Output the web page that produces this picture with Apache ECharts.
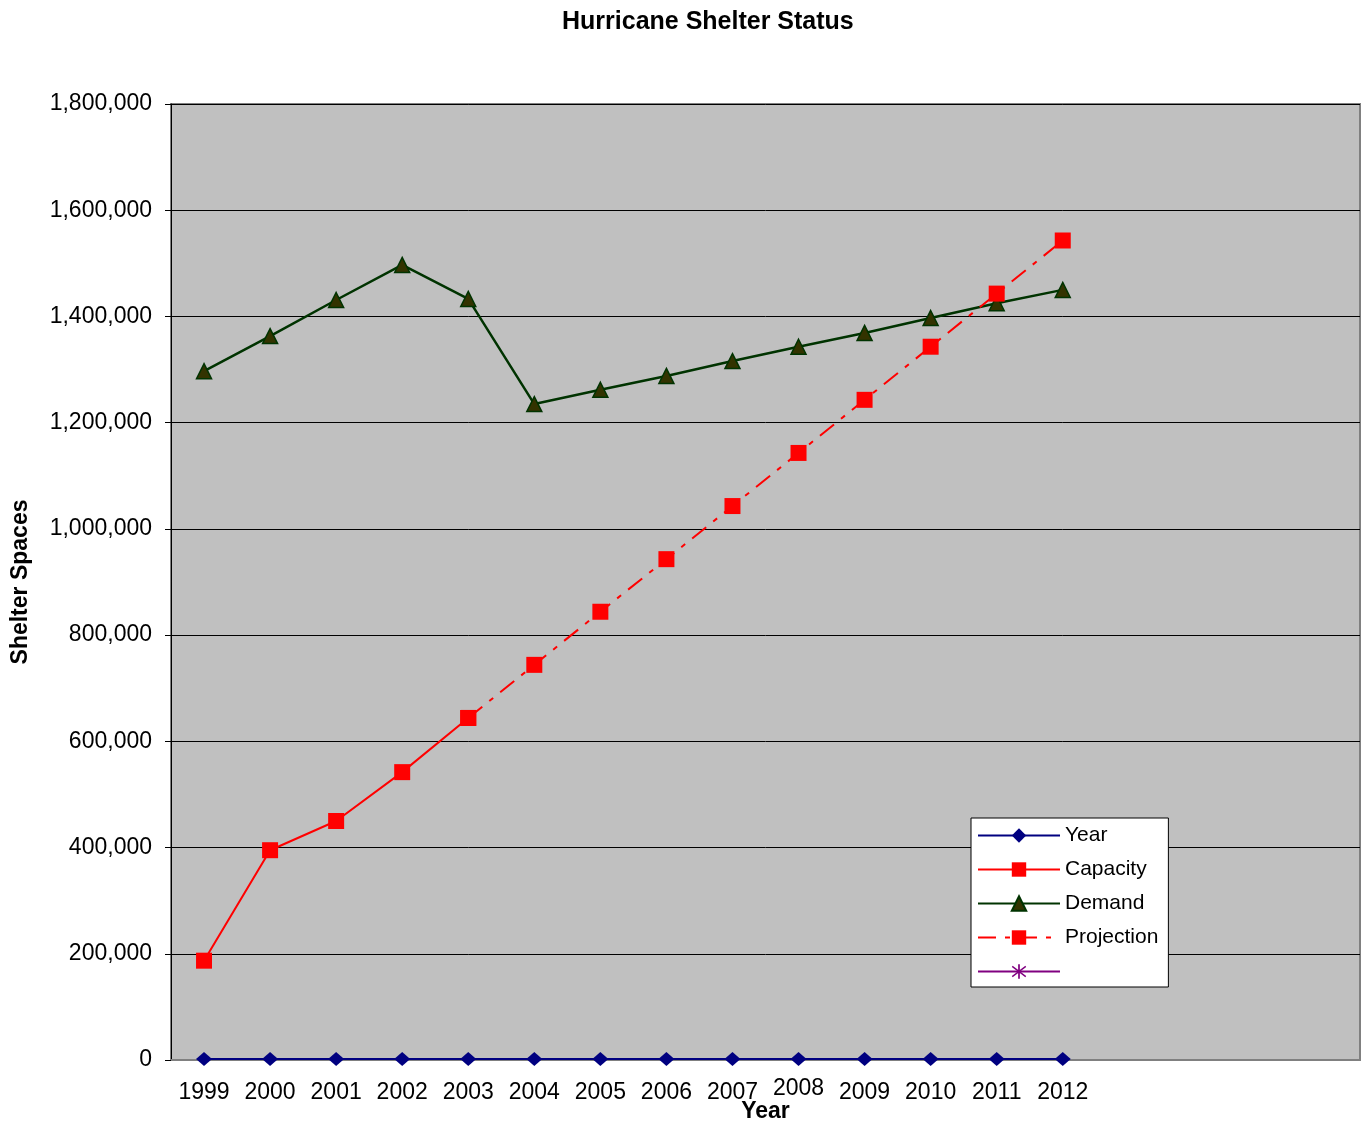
<!DOCTYPE html>
<html>
<head>
<meta charset="utf-8">
<title>Hurricane Shelter Status</title>
<script src="https://cdn.jsdelivr.net/npm/echarts@6/dist/echarts.min.js"></script>
<style>
  html, body { margin: 0; padding: 0; background: #ffffff; }
  #chart { width: 1364px; height: 1125px; }
</style>
</head>
<body>
<div id="chart"></div>
<script>
// Year categories; the axis runs on past 2012 with unlabelled slots
const years = ['1999', '2000', '2001', '2002', '2003', '2004', '2005', '2006', '2007', '2008', '2009', '2010', '2011', '2012'];
const emptySlots = ['', ' ', '  ', '   '];

// Series values (shelter spaces)
const yearValues = [1999, 2000, 2001, 2002, 2003, 2004, 2005, 2006, 2007, 2008, 2009, 2010, 2011, 2012];
const capacity = [187000, 395000, 450000, 542000, 644000, null, null, null, null, null, null, null, null, null];
const demand = [1297000, 1363000, 1431000, 1497000, 1433000, 1235000, 1262000, 1288000, 1316000, 1343000, 1369000, 1397000, 1425000, 1450000];
const projection = [null, null, null, null, 644000, 744000, 844000, 943000, 1043000, 1143000, 1243000, 1343000, 1443000, 1543000];

// Value axis ticks
const yTicks = [0, 200000, 400000, 600000, 800000, 1000000, 1200000, 1400000, 1600000, 1800000];

const FONT = '"Liberation Sans", Arial, sans-serif';
const asterisk = 'path://M9,0h2v20h-2z M1.6,3.6 L2.6,1.9 L18.4,16.4 L17.4,18.1 z M17.4,1.9 L18.4,3.6 L2.6,18.1 L1.6,16.4 z';

const categoryData = years.concat(emptySlots).map(function (c) {
  // 2008 sits a touch higher than its neighbours
  return c === '2008' ? { value: c, textStyle: { padding: [0, 0, 0, 0] } } : c;
});

const chart = echarts.init(document.getElementById('chart'), null, { renderer: 'canvas' });

chart.setOption({
  animation: false,
  backgroundColor: '#ffffff',
  textStyle: { fontFamily: FONT },
  title: {
    text: 'Hurricane Shelter Status',
    left: 557,
    top: 5,
    textStyle: { fontFamily: FONT, fontSize: 25, fontWeight: 'bold', color: '#000' }
  },
  grid: {
    left: 171,
    top: 104,
    right: 4,
    bottom: 65,
    containLabel: false,
    outerBoundsMode: 'none',
    show: true,
    backgroundColor: '#C0C0C0',
    borderColor: '#808080',
    borderWidth: 2
  },
  legend: {
    orient: 'vertical',
    left: 971,
    top: 818,
    padding: [7, 10, 5, 6],
    itemWidth: 82,
    itemHeight: 18,
    itemGap: 13,
    backgroundColor: '#ffffff',
    borderColor: '#000000',
    borderWidth: 1,
    borderRadius: 0,
    textStyle: { fontFamily: FONT, fontSize: 21, color: '#000' },
    data: ['Year', 'Capacity', 'Demand', 'Projection', ' ']
  },
  xAxis: {
    type: 'category',
    data: categoryData,
    boundaryGap: true,
    name: 'Year',
    nameLocation: 'middle',
    nameGap: 40,
    nameMoveOverlap: false,
    nameTextStyle: { fontFamily: FONT, fontSize: 23, fontWeight: 'bold', color: '#000' },
    axisLine: { show: true, lineStyle: { color: '#808080', width: 2 } },
    axisTick: { show: false },
    axisLabel: {
      interval: 0,
      margin: 17,
      padding: [4, 0, 0, 0],
      fontFamily: FONT,
      fontSize: 23,
      color: '#000'
    },
    splitLine: { show: false }
  },
  yAxis: {
    type: 'value',
    min: yTicks[0],
    max: yTicks[yTicks.length - 1],
    interval: yTicks[1] - yTicks[0],
    name: 'Shelter Spaces',
    nameLocation: 'middle',
    nameGap: 139,
    nameMoveOverlap: false,
    nameTextStyle: { fontFamily: FONT, fontSize: 23, fontWeight: 'bold', color: '#000' },
    axisLine: { show: true, lineStyle: { color: '#000', width: 1 } },
    axisTick: { show: true, length: 6, lineStyle: { color: '#000', width: 1 } },
    axisLabel: {
      margin: 19,
      fontFamily: FONT,
      fontSize: 23,
      color: '#000',
      formatter: function (v) { return v.toLocaleString('en-US'); }
    },
    splitLine: { show: true, lineStyle: { color: '#000', width: 1 } }
  },
  series: [
    {
      name: 'Year',
      type: 'line',
      data: yearValues,
      symbol: 'diamond',
      symbolSize: [16, 14],
      itemStyle: { color: '#000080' },
      lineStyle: { color: '#000080', width: 2 },
      z: 3
    },
    {
      name: 'Capacity',
      type: 'line',
      data: capacity,
      connectNulls: false,
      symbol: 'rect',
      symbolSize: 16,
      itemStyle: { color: '#FF0000' },
      lineStyle: { color: '#FF0000', width: 2 },
      z: 4
    },
    {
      name: 'Demand',
      type: 'line',
      data: demand,
      symbol: 'triangle',
      symbolSize: 15,
      itemStyle: { color: '#333300', borderColor: '#003300', borderWidth: 1.5 },
      lineStyle: { color: '#003300', width: 2.5 },
      z: 5
    },
    {
      name: 'Projection',
      type: 'line',
      data: projection,
      connectNulls: false,
      symbol: 'rect',
      symbolSize: 16,
      itemStyle: { color: '#FF0000' },
      lineStyle: { color: '#FF0000', width: 2, type: [18, 9, 5, 9] },
      z: 6
    },
    {
      name: ' ',
      type: 'line',
      data: [],
      symbol: asterisk,
      symbolSize: 14,
      itemStyle: { color: '#800080' },
      lineStyle: { color: '#800080', width: 2 }
    }
  ]
});
</script>
</body>
</html>
